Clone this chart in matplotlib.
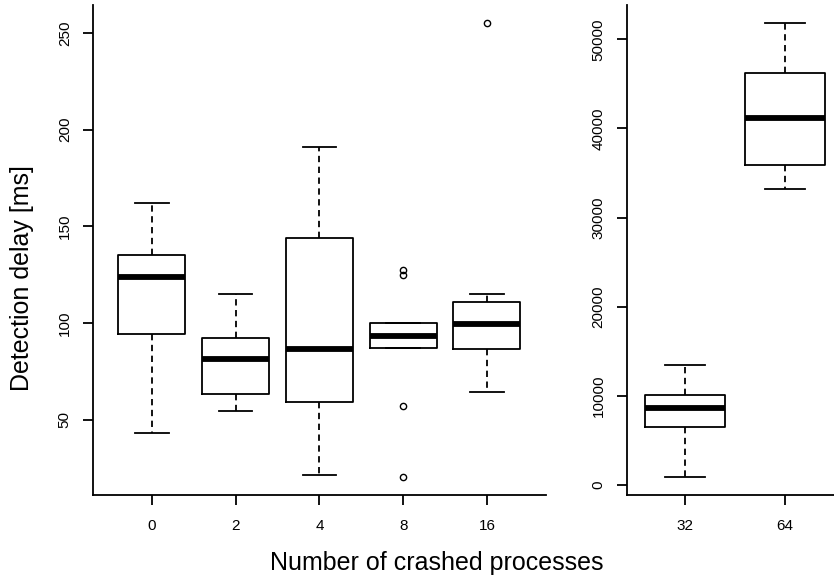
import matplotlib
matplotlib.use("Agg")
import matplotlib.pyplot as plt

plt.rcParams['font.family'] = ['Liberation Sans', 'DejaVu Sans']

# left panel: 0..16 crashed processes (ms)
left_labels = ["0", "2", "4", "8", "16"]
left_whislo = [43.3, 54.4, 21.4, 87.2, 64.3]
left_q1 = [94.2, 63.3, 59.2, 87.2, 86.7]
left_med = [123.8, 81.6, 86.7, 93.3, 99.8]
left_q3 = [135.0, 92.1, 144.0, 100.0, 111.0]
left_whishi = [162.0, 115.0, 191.1, 100.0, 115.3]
left_fliers = [[], [], [], [127.7, 124.8, 57.3, 20.6], [255.0]]

# right panel: 32, 64 crashed processes (ms)
right_labels = ["32", "64"]
right_whislo = [930, 33220]
right_q1 = [6470, 35870]
right_med = [8680, 41140]
right_q3 = [10130, 46270]
right_whishi = [13420, 51810]
right_fliers = [[], []]


def make_stats(labels, lo, q1, med, q3, hi, fl):
    stats = []
    for i in range(len(labels)):
        stats.append(dict(label=labels[i], whislo=lo[i], q1=q1[i], med=med[i],
                          q3=q3[i], whishi=hi[i], fliers=fl[i]))
    return stats


def draw(ax, stats):
    ax.bxp(stats, widths=0.8, capwidths=0.4, showfliers=True,
           boxprops=dict(color='black', linewidth=1.3),
           medianprops=dict(color='black', linewidth=4.2, solid_capstyle='butt'),
           whiskerprops=dict(color='black', linewidth=1.3, linestyle=(0, (3.5, 2.5))),
           capprops=dict(color='black', linewidth=1.3),
           flierprops=dict(marker='o', markerfacecolor='none', markeredgecolor='black',
                           markersize=4.5, markeredgewidth=1.0))
    for s in ['top', 'right']:
        ax.spines[s].set_visible(False)
    for s in ['left', 'bottom']:
        ax.spines[s].set_linewidth(1.3)
    ax.tick_params(axis='both', length=7.5, width=1.3, labelsize=11)
    ax.tick_params(axis='x', pad=10)
    ax.tick_params(axis='y', pad=8)
    for t in ax.get_yticklabels():
        t.set_rotation(90)
        t.set_va('center')


W, H = 834, 584
fig = plt.figure(figsize=(W / 100, H / 100), dpi=100)

ax1 = fig.add_axes([93.3 / W, (H - 495) / H, (545.6 - 93.3) / W, 490 / H])
draw(ax1, make_stats(left_labels, left_whislo, left_q1, left_med, left_q3, left_whishi, left_fliers))
ax1.set_xlim(0.3, 5.7)
ax1.set_ylim(11.2, 264.4)
ax1.set_yticks([50, 100, 150, 200, 250])

ax2 = fig.add_axes([627 / W, (H - 495) / H, 216 / W, 490 / H])
draw(ax2, make_stats(right_labels, right_whislo, right_q1, right_med, right_q3, right_whishi, right_fliers))
ax2.set_xlim(0.42, 2.58)
ax2.set_ylim(-1105, 53845)
ax2.set_yticks([0, 10000, 20000, 30000, 40000, 50000])
ax2.set_yticklabels(["0", "10000", "20000", "30000", "40000", "50000"], rotation=90, va='center')

fig.text(437 / W, 21 / H, "Number of crashed processes", ha='center', va='center', fontsize=18)
fig.text(22.5 / W, (H - 278) / H, "Detection delay [ms]", ha='center', va='center',
         rotation=90, fontsize=18)

fig.savefig("out.png", dpi=100)
